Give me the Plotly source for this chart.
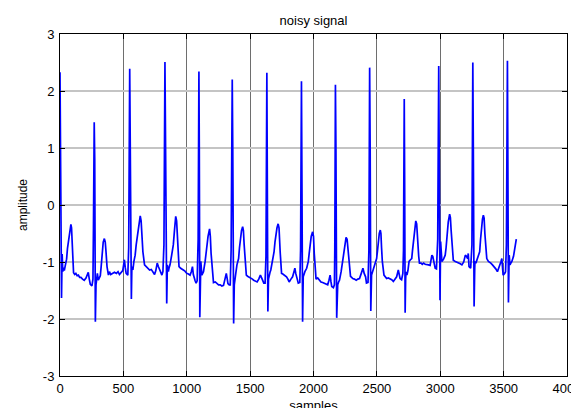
import plotly.graph_objects as go

# Vertices of the ECG trace (sample index, amplitude)
sample_idx = [
    0, 5, 12, 17, 22, 28, 34, 40, 46, 52, 59, 66, 72, 79, 86, 91, 96, 99, 107, 116, 125, 135, 145, 155, 165, 178, 191, 205, 215, 223, 231, 239, 252, 260,
    264, 270, 274, 279, 284, 289, 295, 302, 310, 318, 324, 329, 335, 341, 350, 357, 363, 371, 382, 390, 400, 416, 430, 445, 458, 469, 482, 495, 502, 508, 515, 522, 535, 542,
    550, 555, 563, 567, 575, 583, 593, 601, 610, 620, 633, 640, 647, 654, 667, 680, 694, 707, 720, 733, 746, 756, 767, 776, 786, 796, 804, 812, 820,
    828, 833, 842, 847, 855, 861, 868, 881, 894, 903, 913, 920, 928, 939, 952, 962, 973, 986, 1000, 1013, 1026, 1036, 1045, 1052, 1058, 1066, 1074, 1082, 1090,
    1096, 1099, 1103, 1108, 1111, 1119, 1125, 1132, 1145, 1158, 1168, 1180, 1186, 1192, 1198, 1211, 1225, 1238, 1251, 1264, 1277, 1290, 1301, 1312, 1318, 1325, 1335, 1343, 1350,
    1359, 1363, 1370, 1375, 1378, 1385, 1396, 1409, 1416, 1423, 1432, 1441, 1447, 1453, 1460, 1470, 1480, 1489, 1498, 1507, 1518, 1528, 1542, 1555, 1568, 1581, 1595, 1608, 1618, 1625,
    1632, 1636, 1640, 1645, 1650, 1657, 1663, 1676, 1689, 1696, 1703, 1712, 1721, 1728, 1737, 1748, 1758, 1769, 1778, 1787, 1798, 1808, 1822, 1835, 1845, 1853, 1860, 1866, 1873, 1880, 1892, 1898,
    1905, 1909, 1914, 1919, 1926, 1932, 1946, 1959, 1966, 1972, 1982, 1993, 2000, 2006, 2012, 2020, 2033, 2046, 2059, 2072, 2086, 2099, 2112, 2122, 2131, 2138, 2144, 2157, 2165, 2168,
    2173, 2177, 2183, 2188, 2191, 2198, 2205, 2218, 2231, 2238, 2244, 2250, 2257, 2265, 2272, 2279, 2292, 2301, 2310, 2323, 2337, 2350, 2363, 2377, 2390, 2400, 2411, 2418, 2430, 2437,
    2443, 2447, 2452, 2458, 2465, 2472, 2485, 2498, 2505, 2511, 2519, 2527, 2532, 2537, 2543, 2556, 2566, 2577, 2590, 2603, 2617, 2630, 2643, 2656, 2669, 2676, 2683, 2695, 2705, 2710,
    2716, 2719, 2723, 2727, 2730, 2737, 2745, 2754, 2765, 2775, 2781, 2788, 2797, 2807, 2814, 2819, 2823, 2830, 2836, 2849, 2858, 2868, 2881, 2894, 2907, 2920, 2928, 2934, 2941, 2948, 2960, 2970, 2980,
    2988, 2992, 2998, 3003, 3008, 3013, 3026, 3039, 3046, 3053, 3063, 3074, 3080, 3086, 3092, 3103, 3119, 3132, 3145, 3158, 3171, 3185, 3198, 3207, 3216, 3221, 3227, 3240, 3250,
    3257, 3261, 3267, 3272, 3274, 3281, 3290, 3298, 3311, 3318, 3325, 3333, 3340, 3346, 3352, 3359, 3367, 3380, 3390, 3399, 3412, 3425, 3438, 3451, 3460, 3470, 3478, 3486, 3491, 3496, 3508, 3515, 3522,
    3530, 3533, 3538, 3542, 3544, 3550, 3557, 3565, 3578, 3586, 3591, 3596, 3600,
]

amplitude = [
    2.33, 1.2, -1.63, -0.86, -1.17, -1.10, -1.15, -1.08, -1.0, -0.95, -0.76, -0.62, -0.50, -0.38, -0.34, -0.40, -0.62, -0.82, -1.19, -1.22, -1.20, -1.24, -1.23, -1.27, -1.27, -1.30, -1.32, -1.28, -1.22, -1.18, -1.30, -1.39, -1.42, -1.30,
    -0.4, 1.45, 0.8, -2.05, -1.40, -1.29, -1.20, -1.32, -1.29, -1.24, -1.10, -0.94, -0.74, -0.65, -0.59, -0.65, -0.82, -1.08, -1.23, -1.17, -1.22, -1.20, -1.18, -1.20, -1.17, -1.22, -1.19, -1.15, -1.05, -0.96, -1.10, -1.20, -1.23, -0.75,
    2.39, 1.0, -1.65, -1.08, -1.14, -0.99, -0.88, -0.70, -0.55, -0.38, -0.19, -0.28, -0.55, -0.82, -1.05, -1.08, -1.10, -1.14, -1.13, -1.18, -1.22, -1.15, -1.02, -1.08, -1.14, -1.20, -1.23, -1.17, -0.7,
    2.51, 1.2, -1.73, -1.05, -1.17, -1.10, -1.05, -0.88, -0.70, -0.45, -0.20, -0.28, -0.70, -1.08, -1.11, -1.12, -1.14, -1.16, -1.20, -1.21, -1.23, -1.17, -1.08, -1.22, -1.30, -1.33, -1.37, -1.33, -0.6,
    2.34, 1.0, -1.97, -1.2, -0.99, -1.23, -1.18, -1.17, -0.99, -0.70, -0.55, -0.42, -0.55, -0.85, -1.05, -1.36, -1.35, -1.37, -1.40, -1.40, -1.42, -1.41, -1.30, -1.20, -1.28, -1.38, -1.40, -1.40, -0.8,
    2.20, 1.0, -2.08, -1.4, -1.29, -1.23, -1.05, -0.94, -0.75, -0.59, -0.45, -0.38, -0.45, -0.70, -0.99, -1.23, -1.25, -1.26, -1.28, -1.29, -1.30, -1.32, -1.34, -1.35, -1.30, -1.23, -1.30, -1.37, -1.37, -0.9,
    2.32, 1.0, -1.87, -1.3, -1.23, -1.18, -1.14, -0.99, -0.82, -0.65, -0.53, -0.40, -0.33, -0.40, -0.82, -1.20, -1.21, -1.23, -1.24, -1.26, -1.30, -1.35, -1.30, -1.26, -1.18, -1.11, -1.20, -1.26, -1.33, -1.37, -1.36, -0.8,
    2.17, 1.0, -2.05, -1.26, -1.20, -1.17, -1.11, -0.99, -0.85, -0.70, -0.55, -0.47, -0.55, -0.85, -1.17, -1.30, -1.28, -1.32, -1.35, -1.36, -1.37, -1.38, -1.40, -1.32, -1.23, -1.35, -1.43, -1.45, -1.40, -0.8,
    2.11, 1.0, -1.98, -1.5, -1.40, -1.35, -1.32, -1.17, -0.94, -0.80, -0.70, -0.60, -0.57, -0.60, -0.80, -0.99, -1.25, -1.27, -1.29, -1.30, -1.32, -1.30, -1.29, -1.20, -1.11, -1.20, -1.26, -1.37, -1.36, -0.8,
    2.41, 1.0, -1.86, -1.23, -1.18, -1.14, -1.05, -0.94, -0.80, -0.64, -0.50, -0.44, -0.50, -0.75, -0.99, -1.23, -1.27, -1.29, -1.28, -1.29, -1.31, -1.34, -1.30, -1.26, -1.14, -1.20, -1.29, -1.31, -1.20, -0.8,
    1.86, 0.5, -1.89, -1.3, -1.17, -1.23, -1.15, -0.99, -0.96, -0.94, -0.80, -0.64, -0.45, -0.28, -0.33, -0.55, -0.70, -0.90, -1.02, -1.02, -1.04, -1.02, -1.04, -1.04, -1.05, -1.06, -0.95, -0.88, -0.90, -1.0, -1.11, -1.12, -0.6,
    2.44, 1.0, -1.67, -0.64, -0.90, -0.99, -0.95, -0.88, -0.75, -0.53, -0.30, -0.16, -0.22, -0.45, -0.64, -0.97, -0.99, -1.00, -1.02, -1.03, -1.05, -1.00, -0.88, -0.90, -0.94, -0.85, -1.08, -1.11, -0.7,
    2.50, 1.0, -1.78, -1.1, -0.99, -1.02, -0.97, -0.91, -0.82, -0.60, -0.41, -0.25, -0.18, -0.23, -0.50, -0.70, -0.94, -0.99, -1.00, -1.02, -1.05, -1.08, -1.12, -1.17, -1.12, -1.05, -1.00, -0.94, -1.05, -1.23, -1.20, -1.17, -0.7,
    2.53, 1.0, -1.71, -1.1, -0.88, -1.05, -1.02, -0.99, -0.90, -0.80, -0.70, -0.70, -0.60,
]

x_ticks = [0, 500, 1000, 1500, 2000, 2500, 3000, 3500, 4000]
y_ticks = [-3, -2, -1, 0, 1, 2, 3]

FONT = "Liberation Sans, Arial, sans-serif"

fig = go.Figure()
fig.add_trace(go.Scatter(
    x=sample_idx, y=amplitude, mode="lines",
    line=dict(color="#0000ff", width=1.7),
    hoverinfo="skip", showlegend=False,
))

# the page places the figure 8px in from the window's top-left corner
fig.update_layout(
    width=579, height=408,
    margin=dict(l=52, r=20, t=26, b=40, autoexpand=False),
    paper_bgcolor="white", plot_bgcolor="white",
    font=dict(family=FONT, size=13, color="black"),
    title=dict(text="noisy signal", x=0.5, xanchor="center", xref="paper",
               yref="container", y=1 - 12 / 408, yanchor="middle",
               automargin=False, font=dict(size=13, family=FONT)),
    showlegend=False,
)

fig.update_xaxes(
    range=[0, 4000], tickvals=x_ticks, ticktext=[str(v) for v in x_ticks],
    showline=True, linecolor="black", linewidth=1, mirror="ticks",
    ticks="inside", ticklen=5, tickcolor="black",
    showgrid=True, gridcolor="#6e6e6e", gridwidth=1,
    zeroline=False, automargin=False,
    tickfont=dict(size=13, family=FONT),
    title=dict(text="samples", font=dict(size=13, family=FONT), standoff=6),
)
fig.update_yaxes(
    range=[-3, 3], tickvals=y_ticks, ticktext=[str(v) for v in y_ticks],
    showline=True, linecolor="black", linewidth=1, mirror="ticks",
    ticks="inside", ticklen=5, tickcolor="black",
    showgrid=True, gridcolor="#c4c4c4", gridwidth=2,
    zeroline=False, automargin=False,
    tickfont=dict(size=13, family=FONT), ticklabelstandoff=2,
    title=dict(text="amplitude", font=dict(size=12, family=FONT), standoff=12),
)

fig.write_html("out.html")
